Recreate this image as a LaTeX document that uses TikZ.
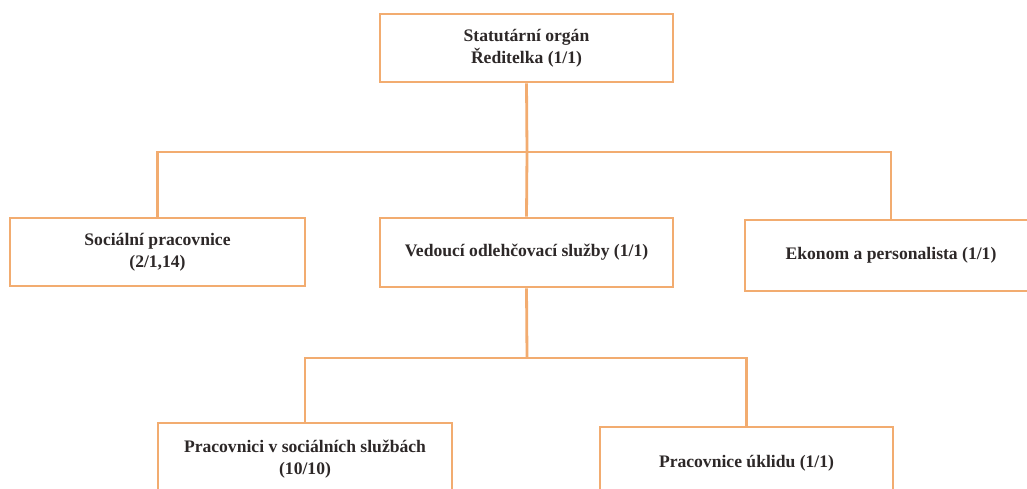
\documentclass[tikz,border=0pt]{standalone}
\usepackage{fontspec}
\setmainfont{Liberation Serif}
\definecolor{lineor}{RGB}{242,172,112}
\definecolor{txt}{RGB}{45,40,40}
\tikzset{
  orgbox/.style={draw=lineor, line width=2.8pt, rectangle, fill=white, align=center,
    text=txt, font=\bfseries\fontsize{17.6}{22}\selectfont, inner sep=0pt},
  conn/.style={draw=lineor, line width=2.8pt}
}
\begin{document}
\begin{tikzpicture}[x=1pt,y=-1pt]
\useasboundingbox (0,0) rectangle (1027,488);
\clip (0,0) rectangle (1027,488);
\fill[white] (0,0) rectangle (1027,488);
\coordinate (b1) at (527,152);
\coordinate (b2) at (527,358);
\node[orgbox, minimum width=293pt, minimum height=68pt] (top) at (526.5,48) {Statutární orgán\\ Ředitelka (1/1)};
\node[orgbox, minimum width=295pt, minimum height=68pt] (sp) at (157.5,252) {Sociální pracovnice\\ (2/1,14)};
\node[orgbox, minimum width=293pt, minimum height=69pt] (ved) at (526.5,252.5) {Vedoucí odlehčovací služby (1/1)};
\node[orgbox, minimum width=292pt, minimum height=71pt] (eko) at (891,255.5) {Ekonom a personalista (1/1)};
\node[orgbox, minimum width=294pt, minimum height=72pt] (pss) at (305,459) {Pracovnici v sociálních službách\\ (10/10)};
\node[orgbox, minimum width=293pt, minimum height=72pt] (pu) at (746.5,463) {Pracovnice úklidu (1/1)};
\draw[conn] (top.south) -- (b1);
\draw[conn] (b1) -| (sp.north);
\draw[conn] (b1) -| (eko.north);
\draw[conn] (b1) -- (ved.north);
\draw[conn] (ved.south) -- (b2);
\draw[conn] (b2) -| (pss.north);
\draw[conn] (b2) -| (pu.north);
\end{tikzpicture}
\end{document}
